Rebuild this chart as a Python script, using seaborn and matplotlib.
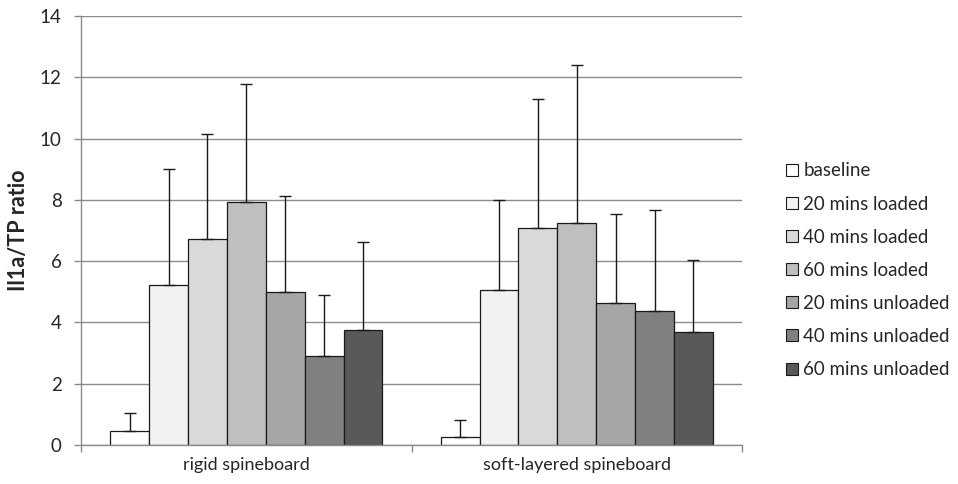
import matplotlib
matplotlib.use("Agg")
import matplotlib.pyplot as plt
import seaborn as sns
import pandas as pd
import numpy as np
from matplotlib.lines import Line2D

categories = ["rigid spineboard", "soft-layered spineboard"]
series = ["baseline", "20 mins loaded", "40 mins loaded", "60 mins loaded",
          "20 mins unloaded", "40 mins unloaded", "60 mins unloaded"]
rigid_mean = [0.46, 5.23, 6.73, 7.92, 4.99, 2.89, 3.74]
rigid_upper = [1.05, 9.0, 10.15, 11.8, 8.14, 4.9, 6.63]
soft_mean = [0.27, 5.06, 7.08, 7.26, 4.65, 4.36, 3.69]
soft_upper = [0.8, 8.0, 11.29, 12.41, 7.54, 7.67, 6.04]
colors = ["#ffffff", "#f2f2f2", "#d9d9d9", "#bfbfbf", "#a6a6a6", "#808080", "#595959"]
yticks = [0, 2, 4, 6, 8, 10, 12, 14]

rows = []
for s, m1, u1, m2, u2 in zip(series, rigid_mean, rigid_upper, soft_mean, soft_upper):
    rows.append({"cat": categories[0], "series": s, "mean": m1, "upper": u1})
    rows.append({"cat": categories[1], "series": s, "mean": m2, "upper": u2})
df = pd.DataFrame(rows)

sns.set_style("white")
plt.rcParams["font.family"] = ["Lato", "DejaVu Sans"]

fig = plt.figure(figsize=(9.58, 4.84), dpi=100)
ax = fig.add_axes([0.0846, 0.0806, 0.69, 0.886])

sns.barplot(data=df, x="cat", y="mean", hue="series", order=categories,
            hue_order=series, palette=colors, width=7 / 8.5, gap=0,
            errorbar=None, edgecolor="#1a1a1a", linewidth=0.9, ax=ax,
            legend=False)

# error bars (upper only)
patches = [p for p in ax.patches]
for i, s in enumerate(series):
    for j, c in enumerate(categories):
        p = patches[i * len(categories) + j]
        xc = p.get_x() + p.get_width() / 2
        row = df[(df.series == s) & (df.cat == c)].iloc[0]
        ax.errorbar([xc], [row["mean"]], yerr=[[0], [row["upper"] - row["mean"]]],
                    fmt="none", ecolor="#1a1a1a", elinewidth=1.0, capsize=4.5,
                    capthick=1.0, zorder=3)

ax.set_xlim(-0.5, 1.5)
ax.set_ylim(0, 14)
ax.set_yticks(yticks)
ax.set_yticklabels([str(t) for t in yticks], fontsize=13.5, color="#262626")
ax.grid(axis="y", color="#8c8c8c", linewidth=1.0)
ax.set_axisbelow(True)
for side in ["top", "right"]:
    ax.spines[side].set_visible(False)
for side in ["left", "bottom"]:
    ax.spines[side].set_color("#8c8c8c")
    ax.spines[side].set_linewidth(1.0)
ax.tick_params(axis="y", which="major", length=5, color="#8c8c8c", width=1.0, pad=9, left=True)
ax.set_xticks([0, 1])
ax.set_xticklabels(categories, fontsize=13, color="#262626")
ax.tick_params(axis="x", length=0, pad=9)
ax.set_xticks([-0.5, 0.5, 1.5], minor=True)
ax.tick_params(axis="x", which="minor", length=5, color="#8c8c8c", width=1.0, bottom=True)
ax.set_xlabel("")
ax.set_ylabel("Il1a/TP ratio", fontsize=15.5, fontweight="bold", color="#262626", labelpad=8)

handles = [Line2D([0], [0], marker="s", linestyle="none", markersize=8.5,
                  markerfacecolor=col, markeredgecolor="#1a1a1a", markeredgewidth=0.8)
           for col in colors]
fig.legend(handles, series, loc="upper left", bbox_to_anchor=(0.812, 0.68),
           frameon=False, fontsize=13.5, labelspacing=0.86, handlelength=0.7,
           handletextpad=0.25, borderaxespad=0, labelcolor="#262626")

fig.savefig("out.png", dpi=100)
